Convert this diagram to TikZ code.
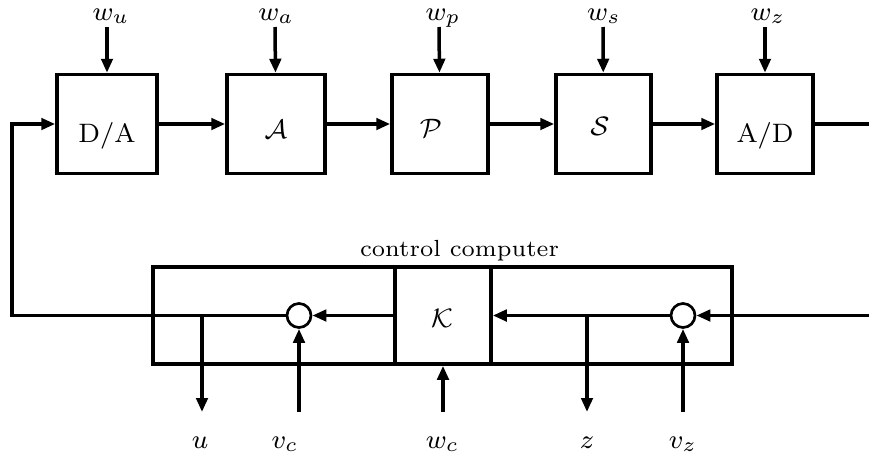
\documentclass[tikz,border=0pt]{standalone}
\usetikzlibrary{arrows.meta}
\begin{document}
\begin{tikzpicture}[x=0.3pt,y=-0.3pt, line width=1.05pt,
  >={Triangle[length=4.2pt,width=3.4pt]},
  blk/.style={draw, minimum height=29.7pt, inner sep=0pt},
  cbox/.style={draw, minimum height=29.1pt, inner sep=0pt},
  sum/.style={draw, circle, minimum size=7.2pt, inner sep=0pt, line width=0.8pt},
  lbl/.style={font=\fontsize{7}{8}\selectfont, inner sep=0pt, anchor=base},
  blbl/.style={font=\fontsize{8}{9}\selectfont, inner sep=0pt, anchor=base},
  mlbl/.style={font=\fontsize{8.5}{10}\selectfont, inner sep=0pt, anchor=base}]
\useasboundingbox (0,0) rectangle (869,457);
% top blocks
\node[blk, minimum width=30pt]   (da) at (107,124) {};
\node[blk, minimum width=29.4pt] (a)  at (276,124) {};
\node[blk, minimum width=28.8pt] (p)  at (440,124) {};
\node[blk, minimum width=28.5pt] (s)  at (603.5,124) {};
\node[blk, minimum width=28.8pt] (ad) at (765,124) {};
\node[blbl] (tda) at (107,142) {D/A};
\node[mlbl] (ta)  at (276,138) {$\mathcal{A}$};
\node[mlbl] (tp)  at (431,137) {$\mathcal{P}$};
\node[mlbl] (ts)  at (600,135) {$\mathcal{S}$};
\node[blbl] (tad) at (765,142) {A/D};
% disturbance inputs
\coordinate (iu) at (107,27);
\coordinate (ia) at (275,27);
\coordinate (ip) at (439,27);
\coordinate (is) at (603,27);
\coordinate (iz) at (765,27);
\draw[->] (iu) -- (da);
\draw[->] (ia) -- (a);
\draw[->] (ip) -- (p);
\draw[->] (is) -- (s);
\draw[->] (iz) -- (ad);
\node[mlbl] (lwu) at (111,20) {$w_u$};
\node[mlbl] (lwa) at (276,20) {$w_a$};
\node[mlbl] (lwp) at (443,20) {$w_p$};
\node[mlbl] (lws) at (604,20) {$w_s$};
\node[mlbl] (lwz) at (768,20) {$w_z$};
% chain
\draw[->] (da) -- (a);
\draw[->] (a) -- (p);
\draw[->] (p) -- (s);
\draw[->] (s) -- (ad);
\coordinate (out) at (869,124);
\draw (ad.east) -- (out);
% control computer
\node[cbox, minimum width=173.7pt] (cc) at (442.5,315.5) {};
\node[cbox, minimum width=28.8pt] (k) at (443,315.5) {};
\node[mlbl] (tk) at (442,327) {$\mathcal{K}$};
\node[lbl] (tcc) at (459.5,256) {control computer};
\node[sum] (sc) at (299,315.5) {};
\node[sum] (sz) at (683,315.5) {};
\coordinate (in) at (869,315.5);
\coordinate (fb) at (12,315.5);
\draw[->] (in) -- (sz);
\draw[->] (sz) -- (k);
\draw[->] (k) -- (sc);
\draw[->] (sc.west) -- (fb) |- (da.west);
% bottom signals
\coordinate (ju) at (202,315.5);
\coordinate (bu) at (202,412);
\coordinate (jz) at (587,315.5);
\coordinate (bz) at (587,412);
\coordinate (bvc) at (299,412);
\coordinate (bwc) at (443,412);
\coordinate (bvz) at (683,412);
\draw[->] (ju) -- (bu);
\draw[->] (jz) -- (bz);
\draw[->] (bvc) -- (sc);
\draw[->] (bwc) -- (k);
\draw[->] (bvz) -- (sz);
\node[mlbl] (lu)  at (200,448) {$u$};
\node[mlbl] (lvc) at (285,448) {$v_c$};
\node[mlbl] (lwc) at (442.5,448) {$w_c$};
\node[mlbl] (lz)  at (587,448) {$z$};
\node[mlbl] (lvz) at (683,448) {$v_z$};
\end{tikzpicture}
\end{document}
